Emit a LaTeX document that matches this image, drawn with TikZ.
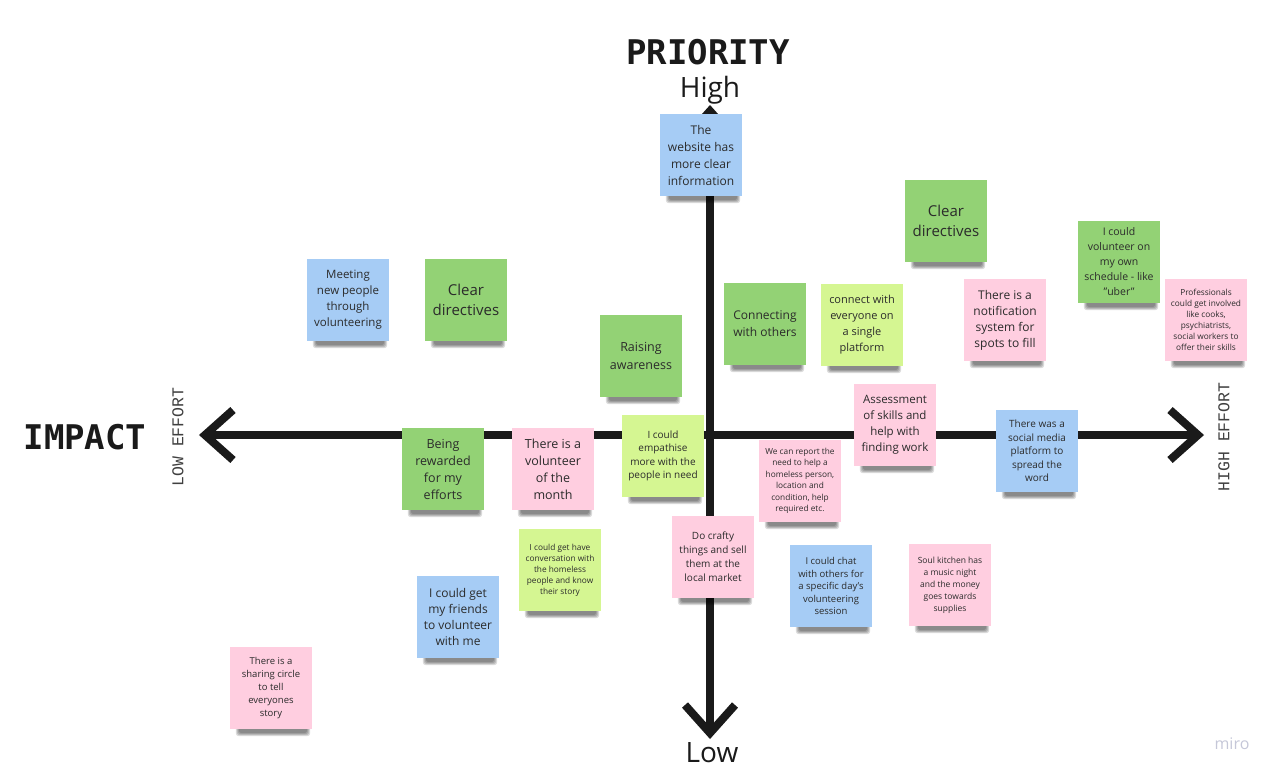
\documentclass[tikz,border=0pt]{standalone}
\usepackage{fontspec}
\setmainfont{Open Sans}
\newfontfamily\headfont{DejaVu Sans Mono}
\newfontfamily\effortfont{Liberation Mono}
\definecolor{cblue}{HTML}{A6CCF5}
\definecolor{cgreen}{HTML}{93D275}
\definecolor{cyellow}{HTML}{D5F692}
\definecolor{cpink}{HTML}{FFCEE0}
\definecolor{notetext}{HTML}{2B2B2B}
\definecolor{axisc}{HTML}{1A1A1A}
\definecolor{miroc}{HTML}{C5C7D8}
\pgfdeclarelayer{axes}
\pgfdeclarelayer{shadow}
\pgfsetlayers{axes,shadow,main}
\tikzset{
  note/.style={minimum width=82pt, minimum height=82pt, inner sep=0pt, align=center, text=notetext},
  nblue/.style={note, fill=cblue},
  ngreen/.style={note, fill=cgreen},
  nyellow/.style={note, fill=cyellow},
  npink/.style={note, fill=cpink},
  fs/.style 2 args={font=\fontsize{#1}{#2}\selectfont},
  axisline/.style={line width=8pt, draw=axisc, line join=miter, line cap=butt},
  heading/.style={font=\headfont\bfseries\fontsize{34}{34}\selectfont, text=axisc, inner sep=0pt},
  pole/.style={font=\fontsize{28}{28}\selectfont, text=axisc, inner sep=0pt},
  effort/.style={font=\effortfont\fontsize{16.5}{16.5}\selectfont, text=black!75, inner sep=0pt, rotate=90},
}
\newcommand\noteshadow[1]{%
  \foreach \k in {0,...,3}{%
    \fill[black, opacity=0.14, rounded corners=3pt]
      ([xshift=6pt+\k pt, yshift=3pt]#1.south west) rectangle ([xshift=-2pt-\k pt, yshift=-7pt+\k pt]#1.south east);
  }%
}
\begin{document}
\begin{tikzpicture}[x=1pt, y=-1pt]
\useasboundingbox (0,0) rectangle (1281,780);

% axis coordinates
\coordinate (L) at (205,435);
\coordinate (R) at (1198,435);
\coordinate (T) at (710,111);
\coordinate (B) at (710,733);

\begin{pgfonlayer}{axes}
  \draw[axisline] (L) -- (R);
  \draw[axisline] (T) -- (B);
  \draw[axisline] ([xshift=28pt, yshift=25pt]L) -- (L) -- ([xshift=28pt, yshift=-25pt]L);
  \draw[axisline] ([xshift=-28pt, yshift=25pt]R) -- (R) -- ([xshift=-28pt, yshift=-25pt]R);
  \draw[axisline] ([xshift=-25pt, yshift=28pt]B) -- (B) -- ([xshift=25pt, yshift=28pt]B);
  \draw[axisline] ([xshift=-25pt, yshift=-28pt]T) -- (T) -- ([xshift=25pt, yshift=-28pt]T);
\end{pgfonlayer}

% labels
\node[heading] (prio) at (708,52) {PRIORITY};
\node[pole] (high) at (710,90) {High};
\node[pole] (low) at (712,753) {Low};
\node[heading] (impact) at (85,437) {IMPACT};
\node[effort] (loweff) at (178,437) {LOW EFFORT};
\node[effort] (higheff) at (1224,437) {HIGH EFFORT};
\node[font=\fontsize{16}{16}\selectfont, text=miroc, inner sep=0pt] (miro) at (1232,744) {miro};

% notes
\node[nblue, fs={12}{17}] (n1) at (701,155) {The\\website has\\more clear\\information};
\node[ngreen, fs={15}{20}] (n2) at (946,221) {Clear\\directives};
\node[ngreen, fs={10.5}{15}] (n3) at (1119,262) {I could\\volunteer on\\my own\\schedule - like\\"uber"};
\node[npink, fs={8.3}{11}] (n4) at (1206,320) {Professionals\\could get involved\\like cooks,\\psychiatrists,\\social workers to\\offer their skills};
\node[nblue, fs={11.5}{16}] (n5) at (348,300) {Meeting\\new people\\through\\volunteering};
\node[ngreen, fs={15}{20}] (n6) at (466,300) {Clear\\directives};
\node[ngreen, fs={12}{17}] (n7) at (765,324) {Connecting\\with others};
\node[nyellow, fs={11}{16}] (n8) at (862,325) {connect with\\everyone on\\a single\\platform};
\node[npink, fs={12}{16}] (n9) at (1005,320) {There is a\\notification\\system for\\spots to fill};
\node[ngreen, fs={12.5}{18}] (n10) at (641,356) {Raising\\awareness};
\node[npink, fs={11.5}{16}] (n11) at (895,425) {Assessment\\of skills and\\help with\\finding work};
\node[nblue, fs={10}{13.5}] (n12) at (1037,451) {There was a\\social media\\platform to\\spread the\\word};
\node[ngreen, fs={12.5}{17}] (n13) at (443,469) {Being\\rewarded\\for my\\efforts};
\node[npink, fs={12.5}{17}] (n14) at (553,469) {There is a\\volunteer\\of the\\month};
\node[nyellow, fs={10}{13.5}] (n15) at (663,456) {I could\\empathise\\more with the\\people in need};
\node[npink, fs={8.3}{11.5}] (n16) at (800,481) {We can report the\\need to help a\\homeless person,\\location and\\condition, help\\required etc.};
\node[npink, fs={10}{14}] (n17) at (713,557) {Do crafty\\things and sell\\them at the\\local market};
\node[nyellow, fs={8.3}{11}] (n18) at (560,570) {I could get have\\conversation with\\the homeless\\people and know\\their story};
\node[nblue, fs={9.5}{12.5}] (n19) at (831,586) {I could chat\\with others for\\a specific day's\\volunteering\\session};
\node[npink, fs={8.5}{12}] (n20) at (950,585) {Soul kitchen has\\a music night\\and the money\\goes towards\\supplies};
\node[nblue, fs={12}{16}] (n21) at (458,617) {I could get\\my friends\\to volunteer\\with me};
\node[npink, fs={9.5}{13}] (n22) at (271,688) {There is a\\sharing circle\\to tell\\everyones\\story};

\begin{pgfonlayer}{shadow}
  \foreach \i in {1,...,22}{\noteshadow{n\i}}
\end{pgfonlayer}
\end{tikzpicture}
\end{document}
